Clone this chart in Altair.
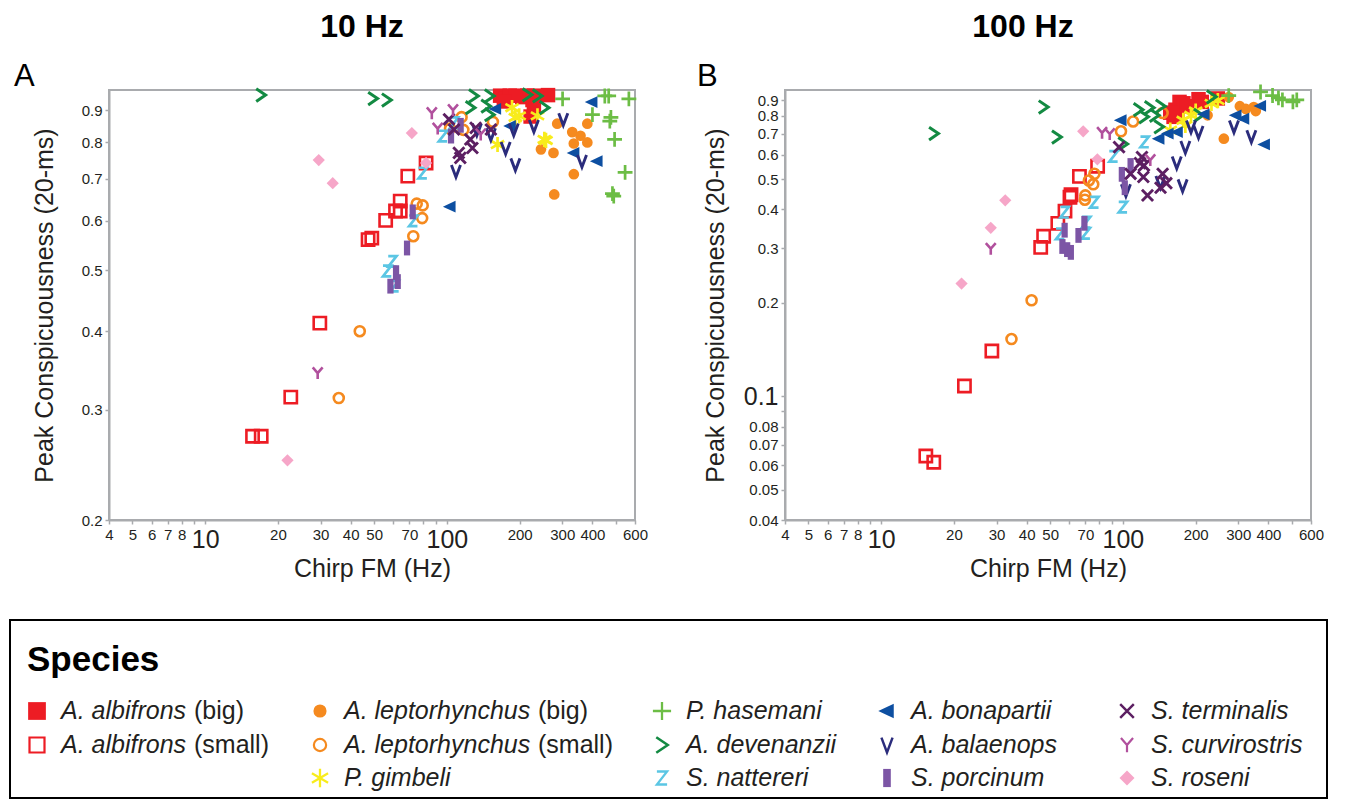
import altair as alt
import pandas as pd

FONT = "Liberation Sans"

SPECIES = [
    "A. albifrons (big)", "A. albifrons (small)",
    "A. leptorhynchus (big)", "A. leptorhynchus (small)", "P. gimbeli",
    "P. hasemani", "A. devenanzii", "S. nattereri",
    "A. bonapartii", "A. balaenops", "S. porcinum",
    "S. terminalis", "S. curvirostris", "S. roseni",
]

# ---------------- Panel A: 10 Hz  (chirp FM [Hz], peak conspicuousness) ----------------
alb_big_10 = [(166, 0.95), (175, 0.94), (182, 0.95), (192, 0.95), (205, 0.945), (215, 0.95),
              (229, 0.95), (262, 0.952), (226, 0.935), (229, 0.914), (222, 0.88), (172, 0.93)]
alb_small_10 = [(15.7, 0.272), (17.05, 0.272), (22.6, 0.314), (29.8, 0.412), (47.2, 0.56),
                (48.9, 0.563), (55.8, 0.601), (61.3, 0.622), (64.1, 0.622), (64.1, 0.645),
                (68.9, 0.707), (82, 0.742)]
lept_big_10 = [(286, 0.857), (330, 0.831), (357, 0.82), (381, 0.857), (335, 0.797), (381, 0.80),
               (245, 0.78), (276, 0.77), (335, 0.712), (278, 0.661)]
lept_small_10 = [(35.7, 0.313), (43.6, 0.40), (72.6, 0.567), (75, 0.639), (79.4, 0.635), (79, 0.606),
                 (115, 0.878), (103, 0.842), (117, 0.838), (155, 0.863)]
gimbeli_10 = [(186, 0.909), (199, 0.882), (192, 0.877), (237, 0.882), (257, 0.806), (162, 0.794),
              (253, 0.809)]
hasemani_10 = [(301, 0.939), (450, 0.949), (467, 0.949), (566, 0.939), (400, 0.886), (477, 0.877),
               (472, 0.865), (494, 0.809), (546, 0.717), (484, 0.663), (490, 0.657)]
devenanzii_10 = [(17, 0.952), (49.4, 0.94), (56.3, 0.935), (129, 0.949), (150, 0.949), (125, 0.909),
                 (145, 0.914), (150, 0.886), (215, 0.953), (253, 0.909), (237, 0.949)]
nattereri_10 = [(79.4, 0.715), (72.6, 0.60), (59.5, 0.517), (56.6, 0.499), (60.7, 0.472),
                (96.3, 0.819), (107, 0.86)]
bonapartii_10 = [(159, 0.905), (183, 0.85), (398, 0.928), (335, 0.77), (418, 0.747), (103, 0.632)]
balaenops_10 = [(303, 0.871), (229, 0.85), (189, 0.839), (152, 0.824), (175, 0.784), (192, 0.738),
                (109, 0.72), (362, 0.747), (133, 0.839)]
porcinum_10 = [(72.2, 0.62), (68.4, 0.543), (61.6, 0.496), (62.6, 0.48), (58.4, 0.472),
               (104, 0.819), (114, 0.852)]
terminalis_10 = [(102, 0.871), (107, 0.839), (131.5, 0.844), (152, 0.839), (125, 0.809),
                 (127.5, 0.784), (112, 0.77), (113.6, 0.756)]
curvirostris_10 = [(86.6, 0.891), (106, 0.901), (91.6, 0.842), (138, 0.824), (29.2, 0.343)]
roseni_10 = [(71.6, 0.828), (29.5, 0.75), (33.7, 0.689), (21.9, 0.249), (82, 0.742)]

# ---------------- Panel B: 100 Hz ----------------
alb_big_100 = [(165, 0.838), (171.5, 0.888), (178, 0.879), (162, 0.795), (168, 0.804), (212, 0.888),
               (205.5, 0.906), (247, 0.911), (184, 0.86), (157, 0.82)]
alb_small_100 = [(15.3, 0.0643), (16.5, 0.0614), (22.1, 0.108), (28.7, 0.140), (45.7, 0.302),
                 (47, 0.328), (53.8, 0.361), (57.6, 0.395), (60.4, 0.438), (61, 0.446),
                 (66.1, 0.511), (78.6, 0.551)]
lept_big_100 = [(224, 0.804), (261.6, 0.676), (304.7, 0.86), (322.6, 0.843), (347.8, 0.855),
                (354.6, 0.83), (274, 0.92)]
lept_small_100 = [(34.6, 0.153), (41.9, 0.204), (72.3, 0.496), (76.2, 0.521), (75.4, 0.482),
                  (69.9, 0.444), (69.6, 0.43), (98.2, 0.714), (110.2, 0.768), (146, 0.818)]
gimbeli_100 = [(177.8, 0.775), (181.3, 0.746), (157, 0.72), (232.5, 0.878), (247, 0.897),
               (191.3, 0.804), (200, 0.83)]
hasemani_100 = [(274, 0.93), (371, 0.956), (416, 0.931), (440, 0.915), (457, 0.902), (505, 0.888),
                (524, 0.902)]
devenanzii_100 = [(16.5, 0.702), (46.9, 0.855), (53.2, 0.684), (115.8, 0.838), (128.7, 0.851),
                  (143, 0.86), (122, 0.795), (135, 0.804), (140.9, 0.738), (100, 0.65),
                  (205.5, 0.804), (232.5, 0.922)]
nattereri_100 = [(76.2, 0.422), (100, 0.407), (91.4, 0.593), (123, 0.66), (57.4, 0.392),
                 (55, 0.334), (70.5, 0.364), (70.2, 0.335)]
bonapartii_100 = [(98.2, 0.775), (140.9, 0.676), (153.8, 0.702), (167.9, 0.71), (216.6, 0.81),
                  (293.5, 0.804), (316, 0.784), (371, 0.862), (385, 0.648)]
balaenops_100 = [(102.9, 0.461), (167, 0.566), (176.6, 0.478), (181.3, 0.635), (205.5, 0.71),
                 (191.3, 0.74), (288, 0.74), (340, 0.688), (143, 0.49)]
porcinum_100 = [(57.4, 0.343), (56.2, 0.304), (58.8, 0.297), (60.9, 0.291), (65.5, 0.33),
                (69.3, 0.361), (99, 0.519), (101.8, 0.47), (107.6, 0.554)]
terminalis_100 = [(96.4, 0.635), (107.6, 0.521), (119.9, 0.59), (122.2, 0.554), (117.7, 0.564),
                  (121.5, 0.509), (126.4, 0.444), (143.1, 0.47), (146, 0.521), (151.3, 0.486)]
curvirostris_100 = [(82, 0.706), (88.2, 0.70), (28.4, 0.299), (129.8, 0.577)]
roseni_100 = [(21.5, 0.231), (28.4, 0.349), (32.6, 0.428), (68.5, 0.714), (78.4, 0.58)]

# axis tick values / labels
X_TICKS = [4, 5, 6, 7, 8, 9, 10, 20, 30, 40, 50, 60, 70, 80, 90, 100, 200, 300, 400, 500, 600]
X_LABELED = [4, 5, 6, 7, 8, 10, 20, 30, 40, 50, 70, 100, 200, 300, 400, 600]
Y_TICKS_A = [0.2, 0.3, 0.4, 0.5, 0.6, 0.7, 0.8, 0.9]
Y_TICKS_B = [0.04, 0.05, 0.06, 0.07, 0.08, 0.09, 0.1, 0.2, 0.3, 0.4, 0.5, 0.6, 0.7, 0.8, 0.9]

# ---------------- styles ----------------
ASTER = "M0,-1L0,1M-0.87,-0.5L0.87,0.5M-0.87,0.5L0.87,-0.5"
PLUS = "M-1,0L1,0M0,-1L0,1"
GT = "M-0.55,-0.75L0.55,0L-0.55,0.75"
ZED = "M-0.55,-0.7L0.55,-0.7L-0.55,0.7L0.55,0.7"
VEE = "M-0.6,-0.8L0,0.8L0.6,-0.8"
BAR = "M-0.42,-1L0.42,-1L0.42,1L-0.42,1Z"
EX = "M-0.75,-0.75L0.75,0.75M-0.75,0.75L0.75,-0.75"
WYE = "M-0.7,-0.8L0,0M0.7,-0.8L0,0L0,0.85"
TRI_L = "M-0.9,0L0.7,-0.75L0.7,0.75Z"

STYLE = {
    "A. albifrons (big)": dict(shape="square", color="#ed1c24", size=210, filled=True),
    "A. albifrons (small)": dict(shape="square", color="#ed1c24", size=150, filled=False, sw=2.6),
    "A. leptorhynchus (big)": dict(shape="circle", color="#f58a1f", size=115, filled=True),
    "A. leptorhynchus (small)": dict(shape="circle", color="#f58a1f", size=100, filled=False, sw=2.6),
    "P. gimbeli": dict(shape=ASTER, color="#f8ec1c", size=230, filled=False, sw=2.7),
    "P. hasemani": dict(shape=PLUS, color="#6cbd45", size=220, filled=False, sw=2.7),
    "A. devenanzii": dict(shape=GT, color="#138a42", size=290, filled=False, sw=3),
    "S. nattereri": dict(shape=ZED, color="#5bc6e4", size=230, filled=False, sw=2.7),
    "A. bonapartii": dict(shape=TRI_L, color="#0d4fa1", size=250, filled=True),
    "A. balaenops": dict(shape=VEE, color="#2b2c7c", size=230, filled=False, sw=2.9),
    "S. porcinum": dict(shape=BAR, color="#7c55a5", size=220, filled=True),
    "S. terminalis": dict(shape=EX, color="#5c1f62", size=220, filled=False, sw=2.9),
    "S. curvirostris": dict(shape=WYE, color="#b1509d", size=200, filled=False, sw=2.6),
    "S. roseni": dict(shape="diamond", color="#f6a6c8", size=150, filled=True),
}


def style_mark(chart, sp, scale=1.0, sw_scale=1.0):
    st = STYLE[sp]
    if st["filled"]:
        return chart.mark_point(shape=st["shape"], color=st["color"], size=st["size"] * scale,
                                filled=True, opacity=1, strokeWidth=0)
    return chart.mark_point(shape=st["shape"], color=st["color"], size=st["size"] * scale,
                            filled=False, opacity=1, strokeWidth=st["sw"] * sw_scale)


def to_frame(series):
    rows = []
    for sp, pts in zip(SPECIES, series):
        for fm, pc in pts:
            rows.append({"species": sp, "fm": fm, "pc": pc})
    return pd.DataFrame(rows)


df10 = to_frame([alb_big_10, alb_small_10, lept_big_10, lept_small_10, gimbeli_10, hasemani_10,
                 devenanzii_10, nattereri_10, bonapartii_10, balaenops_10, porcinum_10,
                 terminalis_10, curvirostris_10, roseni_10])
df100 = to_frame([alb_big_100, alb_small_100, lept_big_100, lept_small_100, gimbeli_100,
                  hasemani_100, devenanzii_100, nattereri_100, bonapartii_100, balaenops_100,
                  porcinum_100, terminalis_100, curvirostris_100, roseni_100])

GRAY = "#a9abae"
LABEL = "#231f20"
PW, PH = 526, 430


def x_enc():
    return alt.X(
        "fm:Q",
        scale=alt.Scale(type="log", domain=[4, 600], nice=False),
        axis=alt.Axis(
            values=X_TICKS, format="~g",
            labelExpr="indexof(%s, datum.value) >= 0 ? datum.label : ''" % str(X_LABELED),
            labelFontSize={"condition": {"test": "datum.value == 10 || datum.value == 100", "value": 25},
                           "value": 15},
            labelFont=FONT, labelColor=LABEL, labelPadding=3, labelFlush=False,
            labelOverlap=False, grid=False,
            domainColor=GRAY, domainWidth=2, tickColor=GRAY, tickSize=4, tickWidth=1.5,
            title="Chirp FM (Hz)", titleFont=FONT, titleFontSize=25, titleFontWeight="normal",
            titleColor=LABEL, titlePadding=4,
        ),
    )


def y_enc(domain, ticks, big_test, title_pad):
    return alt.Y(
        "pc:Q",
        scale=alt.Scale(type="log", domain=domain, nice=False),
        axis=alt.Axis(
            values=ticks, format="~g",
            labelExpr="abs(datum.value - 0.09) < 1e-9 ? '' : datum.label",
            labelFontSize={"condition": {"test": big_test, "value": 25}, "value": 15},
            labelFont=FONT, labelColor=LABEL, labelPadding=3, labelFlush=False,
            labelOverlap=False, grid=False,
            domainColor=GRAY, domainWidth=2, tickColor=GRAY, tickSize=4, tickWidth=1.5,
            title="Peak Conspicuousness (20-ms)", titleFont=FONT, titleFontSize=25,
            titleFontWeight="normal", titleColor=LABEL, titlePadding=title_pad,
        ),
    )


def panel(df, domain, ticks, big_test, title_pad, title, title_x, letter, letter_dx):
    layers = []
    for sp in SPECIES:
        base = alt.Chart(df).transform_filter(alt.datum.species == sp)
        layers.append(style_mark(base, sp).encode(x=x_enc(), y=y_enc(domain, ticks, big_test, title_pad)))
    lab = alt.Chart(pd.DataFrame({"t": [letter]})).mark_text(
        font=FONT, fontSize=31, align="left", baseline="middle", color="black"
    ).encode(x=alt.value(letter_dx), y=alt.value(-13), text="t:N")
    ttl = alt.Chart(pd.DataFrame({"t": [title]})).mark_text(
        font=FONT, fontSize=32, fontWeight="bold", align="center", baseline="middle", color="black"
    ).encode(x=alt.value(title_x), y=alt.value(-63), text="t:N")
    layers += [lab, ttl]
    return alt.layer(*layers).properties(
        width=PW, height=PH,
        view=alt.ViewBackground(stroke=GRAY, strokeWidth=2),
    )


pA = panel(df10, [0.2, 0.97], Y_TICKS_A, "false", 24, "10 Hz", 253, "A", -95)
pB = panel(df100, [0.04, 0.97], Y_TICKS_B, "abs(datum.value - 0.1) < 1e-9", 15, "100 Hz", 238, "B", -88)

top = alt.hconcat(pA, pB, spacing=47)

# ---------------- legend box ----------------
BOX_LEFT = -99          # box left edge relative to panel-A plot origin
LW, LH = 1218, 178      # legend view width (from origin to box right), box height
LEGEND_COLS = [
    ["A. albifrons (big)", "A. albifrons (small)"],
    ["A. leptorhynchus (big)", "A. leptorhynchus (small)", "P. gimbeli"],
    ["P. hasemani", "A. devenanzii", "S. nattereri"],
    ["A. bonapartii", "A. balaenops", "S. porcinum"],
    ["S. terminalis", "S. curvirostris", "S. roseni"],
]
COL_X = [27, 310, 652, 877, 1117]   # symbol positions from box left
ROW_Y = [91, 125, 158]
TEXT_DX = 24
LEG_FONT = 25
SUFFIX_DX = {"A. albifrons": 133, "A. leptorhynchus": 194}

leg_rows = []
for ci, col in enumerate(LEGEND_COLS):
    for ri, sp in enumerate(col):
        name = sp.split(" (")[0]
        suffix = sp[len(name):].strip()
        sx = BOX_LEFT + COL_X[ci]
        leg_rows.append({"species": sp, "sx": sx, "y": ROW_Y[ri], "tx": sx + TEXT_DX, "name": name,
                         "ux": sx + TEXT_DX + SUFFIX_DX.get(name, 0), "suffix": suffix})
leg_df = pd.DataFrame(leg_rows)

lx = lambda f: alt.X(f, type="quantitative", scale=alt.Scale(domain=[0, LW]), axis=None)
ly = alt.Y("y:Q", scale=alt.Scale(domain=[LH, 0]), axis=None)

leg_layers = [
    alt.Chart(pd.DataFrame({"k": [0]})).mark_rect(fillOpacity=0, stroke="black", strokeWidth=2)
    .encode(x=alt.value(BOX_LEFT), x2=alt.value(LW), y=alt.value(0), y2=alt.value(LH))
]
for sp in SPECIES:
    base = alt.Chart(leg_df).transform_filter(alt.datum.species == sp)
    leg_layers.append(style_mark(base, sp, 1.5, 0.85).encode(x=lx("sx"), y=ly))
leg_layers.append(alt.Chart(leg_df).mark_text(font=FONT, fontSize=LEG_FONT, fontStyle="italic",
                                              align="left", baseline="middle", color=LABEL)
                  .encode(x=lx("tx"), y=ly, text="name:N"))
leg_layers.append(alt.Chart(leg_df).transform_filter(alt.datum.suffix != "")
                  .mark_text(font=FONT, fontSize=LEG_FONT, align="left", baseline="middle", color=LABEL)
                  .encode(x=lx("ux"), y=ly, text="suffix:N"))
leg_layers.append(alt.Chart(pd.DataFrame({"t": ["Species"], "x": [BOX_LEFT + 17], "y": [40]}))
                  .mark_text(font=FONT, fontSize=35, fontWeight="bold", align="left",
                             baseline="middle", color="black")
                  .encode(x=lx("x"), y=ly, text="t:N"))

legend = alt.layer(*leg_layers).properties(
    width=LW, height=LH, view=alt.ViewBackground(stroke="transparent")
)

chart = alt.vconcat(top, legend, spacing=36).properties(
    padding={"left": 0, "top": 2, "right": 2, "bottom": 0}
).configure(font=FONT)

chart.save("out.html", embed_options={"renderer": "svg", "actions": False})
